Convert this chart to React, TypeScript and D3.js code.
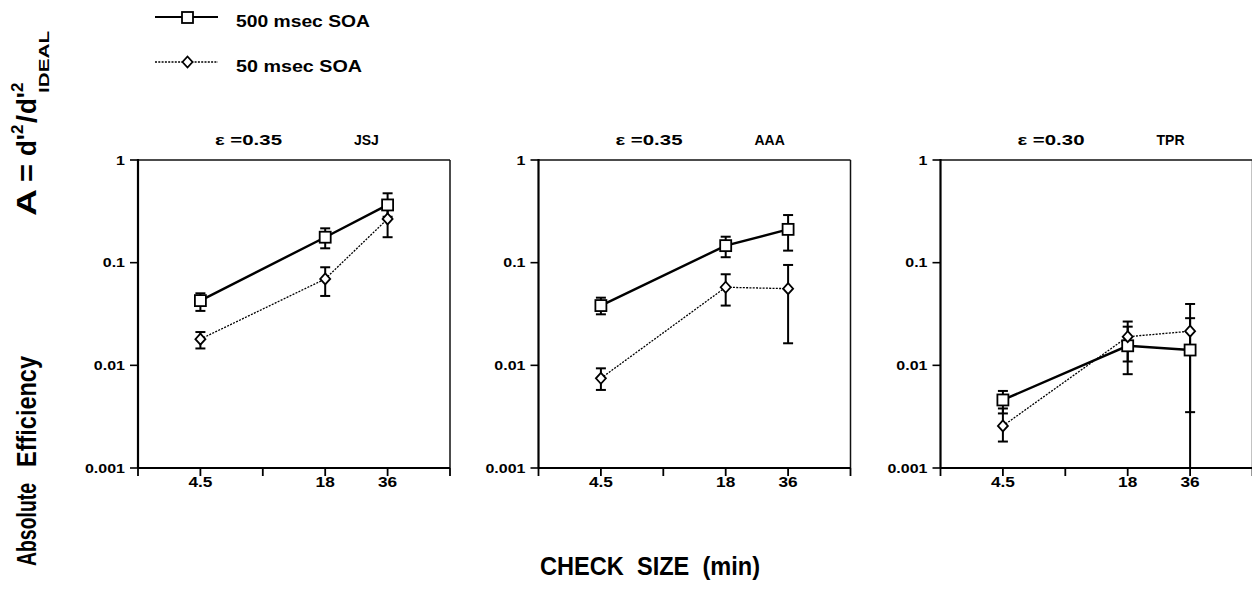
import React from "react";
import * as d3 from "d3";

// ---------- data ----------
const checkSizes = [4.5, 18, 36];
const subjects = ["JSJ", "AAA", "TPR"];
const epsilons = ["0.35", "0.35", "0.30"];
const seriesNames = ["500 msec SOA", "50 msec SOA"];

const soa500Mean = [
  [0.0427, 0.177, 0.365],
  [0.0382, 0.1465, 0.211],
  [0.0046, 0.0155, 0.0141],
];
const soa500Lo = [
  [0.0339, 0.138, 0.28],
  [0.0314, 0.113, 0.131],
  [0.0034, 0.0109, 0.0005],
];
const soa500Hi = [
  [0.0503, 0.216, 0.474],
  [0.0456, 0.179, 0.291],
  [0.00563, 0.0238, 0.0288],
];
const soa50Mean = [
  [0.018, 0.0694, 0.267],
  [0.00748, 0.0576, 0.0558],
  [0.00257, 0.019, 0.0215],
];
const soa50Lo = [
  [0.0146, 0.0474, 0.177],
  [0.00576, 0.0382, 0.0164],
  [0.00181, 0.0082, 0.0035],
];
const soa50Hi = [
  [0.0211, 0.0902, 0.35],
  [0.00935, 0.0771, 0.095],
  [0.0038, 0.0267, 0.0396],
];

const xTicks = [2.25, 4.5, 9, 18, 36, 72];
const xTickLabels = ["", "4.5", "", "18", "36", ""];
const yTicks = [0.001, 0.01, 0.1, 1];
const yTickLabels = ["0.001", "0.01", "0.1", "1"];

// ---------- layout ----------
const W = 1252;
const H = 604;
const panelLefts = [138, 538.5, 940.5];
const panelW = 312;
const top = 160;
const bottom = 468;
const FONT = "'Liberation Sans', Arial, Helvetica, sans-serif";

// approximate advance widths (em) of bold sans digits etc. used for stretched labels
const charW: Record<string, number> = { "0": 0.556, "1": 0.556, "3": 0.556, "4": 0.556, "5": 0.556, "6": 0.556, "8": 0.556, ".": 0.278 };
const strW = (s: string) => s.split("").reduce((a, c) => a + (charW[c] ?? 0.6), 0);

function Panel({ idx }: { idx: number }) {
  const left = panelLefts[idx];
  const x = d3.scaleLog().domain([2.25, 72]).range([left, left + panelW]);
  const y = d3.scaleLog().domain([0.001, 1]).range([bottom, top]);
  const clampY = (v: number) => y(Math.max(0.001, Math.min(1, v)));

  const line = d3
    .line<number>()
    .x((_, i) => x(checkSizes[i]))
    .y((d) => y(d));

  const series = [
    { mean: soa500Mean[idx], lo: soa500Lo[idx], hi: soa500Hi[idx], solid: true },
    { mean: soa50Mean[idx], lo: soa50Lo[idx], hi: soa50Hi[idx], solid: false },
  ];

  const cap = 5;
  return (
    <g>
      {/* frame */}
      <line x1={left} x2={left + panelW} y1={top} y2={top} stroke="#111" strokeWidth={1.5} />
      <line x1={left + panelW} x2={left + panelW} y1={top} y2={bottom} stroke="#111" strokeWidth={1.5} />
      <line x1={left} x2={left} y1={top - 1} y2={bottom} stroke="#000" strokeWidth={2.2} />
      <line x1={left} x2={left + panelW} y1={bottom} y2={bottom} stroke="#000" strokeWidth={2.2} />
      {/* y ticks */}
      {yTicks.map((t, i) => (
        <g key={"y" + i}>
          <line x1={left - 8} x2={left} y1={y(t)} y2={y(t)} stroke="#000" strokeWidth={1.6} />
          <text
            x={left - 13}
            y={y(t) + 4.5}
            textAnchor="end"
            fontSize={12.5}
            fontWeight="bold"
            fontFamily={FONT}
            textLength={strW(yTickLabels[i]) * 12.5 * 1.28}
            lengthAdjust="spacingAndGlyphs"
          >
            {yTickLabels[i]}
          </text>
        </g>
      ))}
      {/* x ticks */}
      {xTicks.map((t, i) => (
        <g key={"x" + i}>
          <line x1={x(t)} x2={x(t)} y1={bottom} y2={bottom + 8} stroke="#000" strokeWidth={1.8} />
          {xTickLabels[i] && (
            <text
              x={x(t) - (strW(xTickLabels[i]) * 15 * 1.15) / 2}
              y={bottom + 19}
              fontSize={15}
              fontWeight="bold"
              fontFamily={FONT}
              textLength={strW(xTickLabels[i]) * 15 * 1.15}
              lengthAdjust="spacingAndGlyphs"
            >
              {xTickLabels[i]}
            </text>
          )}
        </g>
      ))}
      {/* titles */}
      <text
        x={left + 77}
        y={145}
        fontSize={14}
        fontWeight="bold"
        fontFamily={FONT}
        textLength={67}
        lengthAdjust="spacingAndGlyphs"
      >
        {"ε =" + epsilons[idx]}
      </text>
      <text x={left + 216} y={145} fontSize={14} fontWeight="bold" fontFamily={FONT}>
        {subjects[idx]}
      </text>
      {/* lines */}
      {series.map((s, si) => (
        <path
          key={"l" + si}
          d={line(s.mean) || ""}
          fill="none"
          stroke="#000"
          strokeWidth={s.solid ? 2.4 : 1.3}
          strokeDasharray={s.solid ? undefined : "2 1.3"}
        />
      ))}
      {/* error bars */}
      {series.map((s, si) =>
        s.mean.map((m, i) => {
          const cx = x(checkSizes[i]);
          const yl = clampY(s.lo[i]);
          const yh = clampY(s.hi[i]);
          return (
            <g key={"e" + si + "-" + i} stroke="#000" strokeWidth={2}>
              <line x1={cx} x2={cx} y1={yl} y2={yh} />
              <line x1={cx - cap} x2={cx + cap} y1={yh} y2={yh} />
              {s.lo[i] >= 0.001 && <line x1={cx - cap} x2={cx + cap} y1={yl} y2={yl} />}
            </g>
          );
        })
      )}
      {/* markers */}
      {series.map((s, si) =>
        s.mean.map((m, i) => {
          const cx = x(checkSizes[i]);
          const cy = y(m);
          return s.solid ? (
            <rect
              key={"m" + si + "-" + i}
              x={cx - 5.5}
              y={cy - 5.5}
              width={11}
              height={11}
              fill="#fff"
              stroke="#000"
              strokeWidth={1.8}
            />
          ) : (
            <path
              key={"m" + si + "-" + i}
              d={`M${cx},${cy - 5.5}L${cx + 5},${cy}L${cx},${cy + 5.5}L${cx - 5},${cy}Z`}
              fill="#fff"
              stroke="#000"
              strokeWidth={1.8}
            />
          );
        })
      )}
    </g>
  );
}

export default function App() {
  return (
    <svg
      width={W}
      height={H}
      style={{ position: "absolute", left: 0, top: 0, background: "#fff" }}
    >
      <rect width={W} height={H} fill="#fff" />
      {/* legend */}
      <g>
        <line x1={155} x2={218} y1={17} y2={17} stroke="#000" strokeWidth={1.8} />
        <rect x={182} y={12} width={11} height={11} fill="#fff" stroke="#000" strokeWidth={1.8} />
        <text x={236} y={27} fontSize={17} fontWeight="bold" fontFamily={FONT} textLength={134} lengthAdjust="spacingAndGlyphs">
          {seriesNames[0]}
        </text>
        <line x1={155} x2={218} y1={62} y2={62} stroke="#000" strokeWidth={1.3} strokeDasharray="2 1.3" />
        <path d="M187.5,56.5L192.5,62L187.5,67.5L182.5,62Z" fill="#fff" stroke="#000" strokeWidth={1.8} />
        <text x={236} y={72} fontSize={17} fontWeight="bold" fontFamily={FONT} textLength={126} lengthAdjust="spacingAndGlyphs">
          {seriesNames[1]}
        </text>
      </g>
      {[0, 1, 2].map((i) => (
        <Panel key={i} idx={i} />
      ))}
      {/* y axis label */}
      <g transform="translate(36,0) rotate(-90)" fontFamily={FONT} fontWeight="bold" fill="#000">
        <text x={-566} y={0} fontSize={28} textLength={83} lengthAdjust="spacingAndGlyphs">Absolute</text>
        <text x={-467} y={0} fontSize={28} textLength={111} lengthAdjust="spacingAndGlyphs">Efficiency</text>
        <text x={-216} y={0} fontSize={28} textLength={27} lengthAdjust="spacingAndGlyphs">A</text>
        <text x={-182} y={0} fontSize={28} textLength={18} lengthAdjust="spacingAndGlyphs">=</text>
        <text x={-156} y={0} fontSize={28} textLength={22} lengthAdjust="spacingAndGlyphs">d'</text>
        <text x={-134} y={-13} fontSize={17}>2</text>
        <text x={-123} y={0} fontSize={28} textLength={8} lengthAdjust="spacingAndGlyphs">/</text>
        <text x={-114} y={0} fontSize={28} textLength={22} lengthAdjust="spacingAndGlyphs">d'</text>
        <text x={-92} y={-13} fontSize={17}>2</text>
        <text x={-93} y={13} fontSize={15} textLength={62} lengthAdjust="spacingAndGlyphs">IDEAL</text>
      </g>
      {/* x axis title */}
      <text
        x={540}
        y={575}
        fontSize={25}
        fontWeight="bold"
        fontFamily={FONT}
        textLength={220}
        lengthAdjust="spacingAndGlyphs"
        style={{ whiteSpace: "pre" }}
      >
        {"CHECK  SIZE  (min)"}
      </text>
    </svg>
  );
}
